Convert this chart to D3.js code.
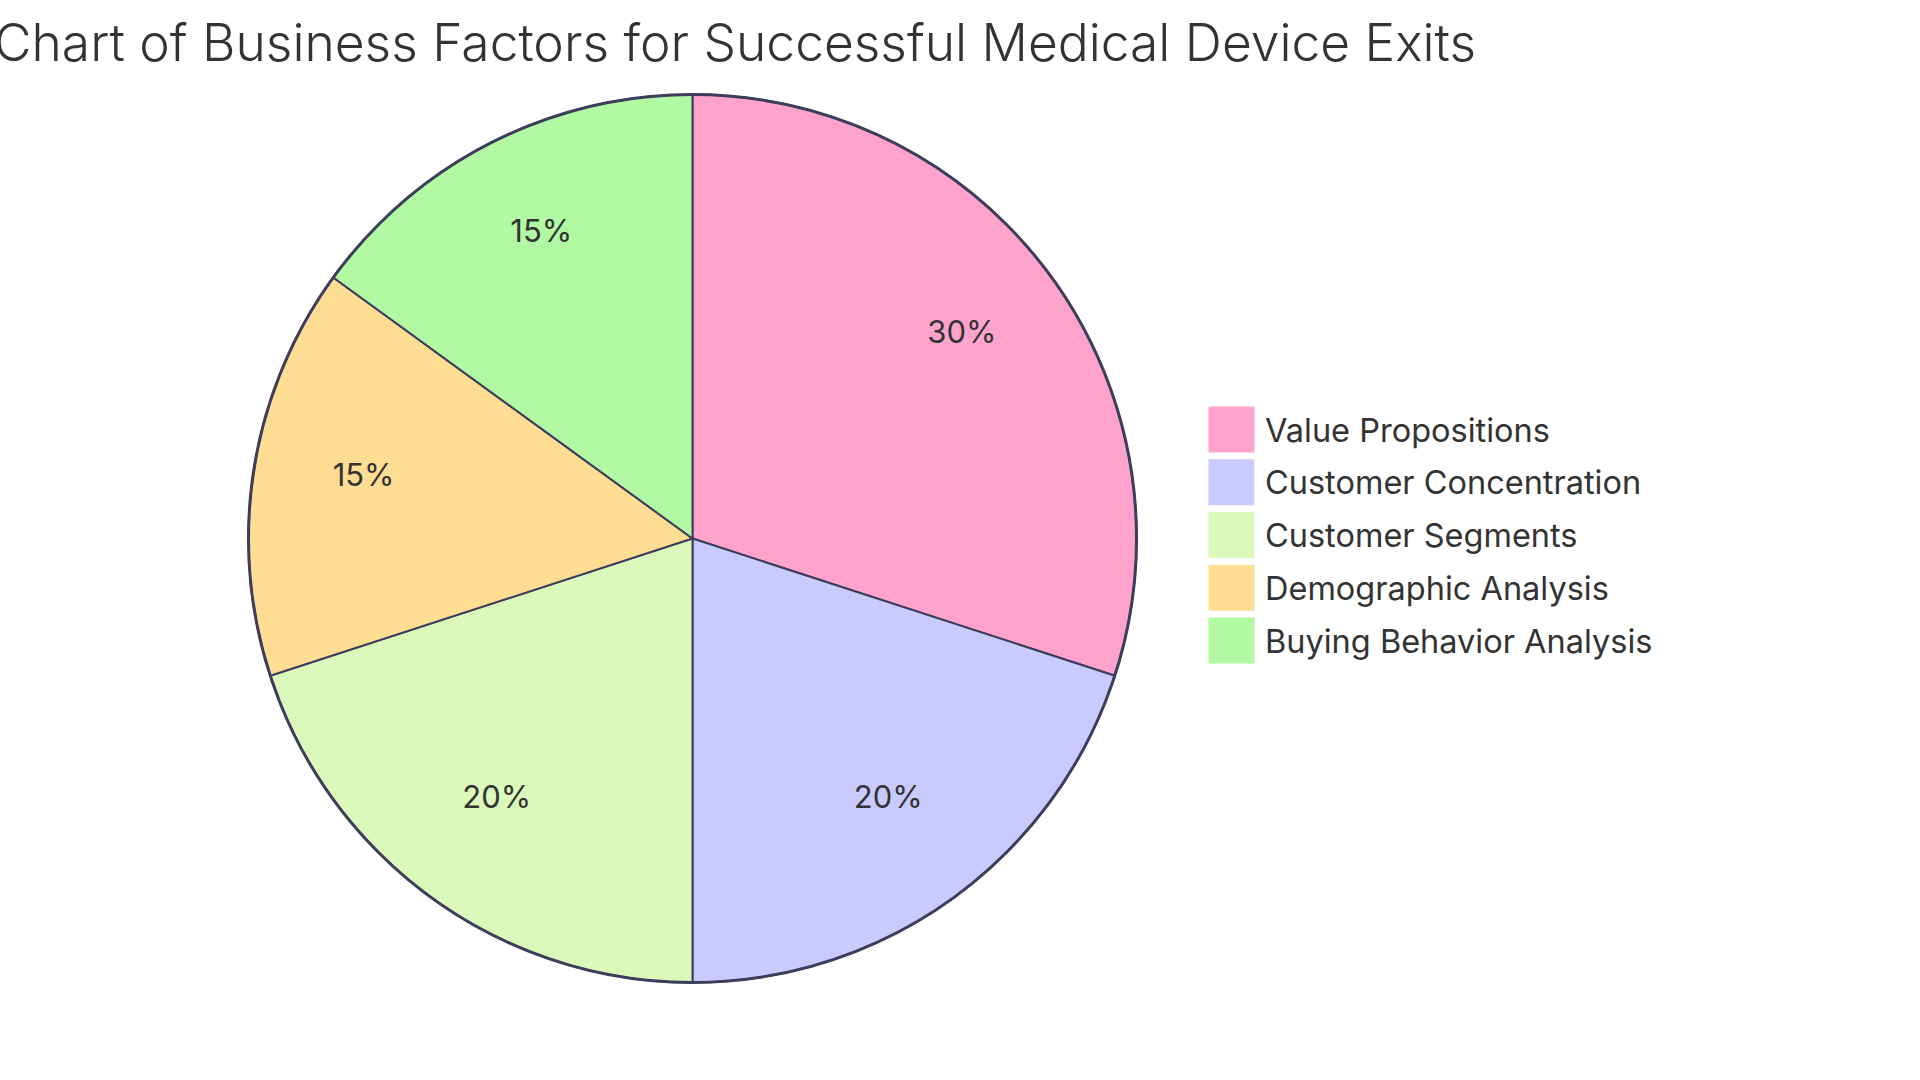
<!DOCTYPE html>
<html><head><meta charset="utf-8">
<script src="https://cdn.jsdelivr.net/npm/d3@7"></script>
<style>body{margin:0;background:#fff}svg{display:block}</style>
</head><body>
<svg id="c" width="1920" height="1080"></svg>
<script>
const title = "Chart of Business Factors for Successful Medical Device Exits";
const categories = ["Value Propositions","Customer Concentration","Customer Segments","Demographic Analysis","Buying Behavior Analysis"];
const values = [30,20,20,15,15];
const colors = ["#FFA3CC","#C9CBFF","#DAF9BB","#FFDE94","#B1F9A2"];

const svg = d3.select("#c");
const font = "Inter, 'Noto Sans', sans-serif";
const cx = 692.5, cy = 538.5, R = 444;
const stroke = "#3d3d5c";

svg.append("text").attr("x", 735).attr("y", 61).attr("text-anchor","middle")
  .attr("font-family", font).attr("font-size", 51.5).attr("fill","#333")
  .attr("font-weight", 300)
  .text(title);

const data = categories.map((c,i)=>({name:c, value:values[i], color:colors[i]}));
const pie = d3.pie().value(d=>d.value).sort(null);
const arc = d3.arc().innerRadius(0).outerRadius(R);
const labelArc = d3.arc().innerRadius(R*0.75).outerRadius(R*0.75);
const total = d3.sum(values);
const g = svg.append("g").attr("transform",`translate(${cx},${cy})`);
const arcs = pie(data);
g.selectAll("path.s").data(arcs).enter().append("path")
  .attr("d", arc).attr("fill", d=>d.data.color)
  .attr("stroke", stroke).attr("stroke-width", 2);
g.append("circle").attr("r", R).attr("fill","none").attr("stroke", stroke).attr("stroke-width", 3);
g.selectAll("text.l").data(arcs).enter().append("text")
  .attr("transform", d=>`translate(${labelArc.centroid(d)})`)
  .attr("text-anchor","middle").attr("font-family", font).attr("font-size", 31)
  .attr("fill","#333")
  .text(d=>Math.round(d.data.value/total*100)+"%");

const lg = svg.append("g");
const step = 52.75, y0 = 429.5;
categories.forEach((c,i)=>{
  const y = y0 + i*step;
  lg.append("rect").attr("x",1209).attr("y", y-22.5).attr("width",45).attr("height",45)
    .attr("fill", colors[i]).attr("stroke", colors[i]).attr("stroke-width",1);
  lg.append("text").attr("x",1265).attr("y", y+12).attr("font-family", font).attr("font-size", 32.5)
    .attr("fill","#333").text(c);
});
</script>
</body></html>
